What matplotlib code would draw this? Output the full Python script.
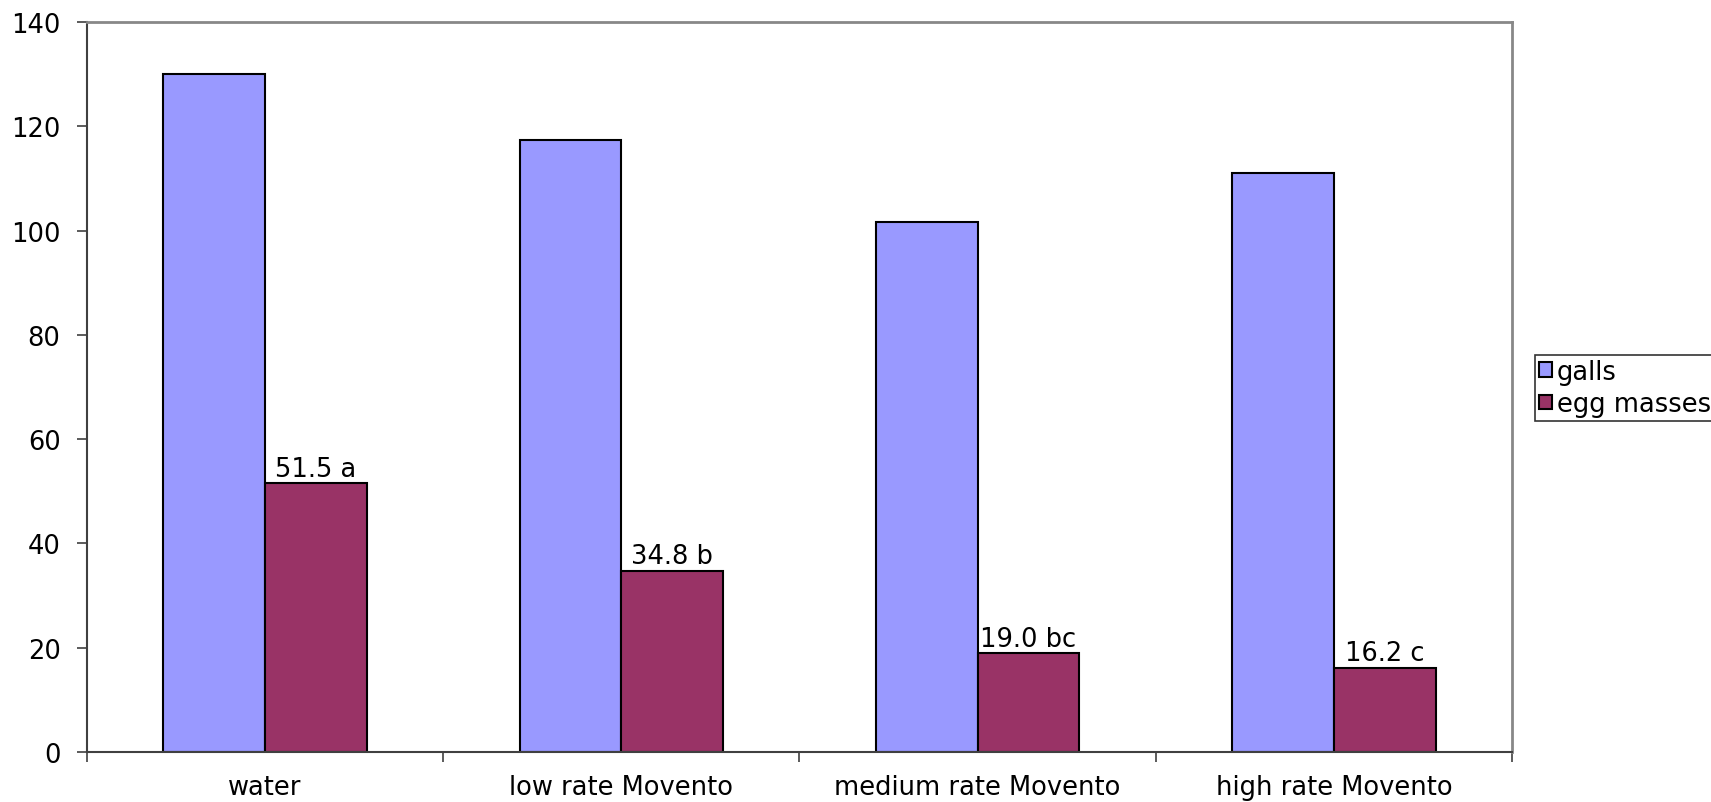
import matplotlib
matplotlib.use("Agg")
import matplotlib.pyplot as plt
import numpy as np

categories = ["water", "low rate Movento", "medium rate Movento", "high rate Movento"]
galls = [130.0, 117.3, 101.6, 111.0]
egg_masses = [51.5, 34.8, 19.0, 16.2]
egg_labels = ["51.5 a", "34.8 b", "19.0 bc", "16.2 c"]

plt.rcParams['font.family'] = ['DejaVu Sans']
FS = 18.5

fig = plt.figure(figsize=(17.11, 8.03), dpi=100)
ax = fig.add_axes([0.0508, 0.0623, 0.8329, 0.9091])

# two bars per group, Excel-style gap width 150%
x = np.arange(len(categories))
w = 1 / 3.5
ax.bar(x - w / 2, galls, w, color='#9999ff', edgecolor='black', linewidth=1.5, label='galls')
b2 = ax.bar(x + w / 2, egg_masses, w, color='#993366', edgecolor='black', linewidth=1.5, label='egg masses')

for rect, lab in zip(b2, egg_labels):
    ax.text(rect.get_x() + rect.get_width() / 2, rect.get_height() + 0.2, lab,
            ha='center', va='bottom', fontsize=FS)

ax.set_xlim(-0.5, len(categories) - 0.5)
ax.set_ylim(0, 140)
ax.set_yticks(np.arange(0, 141, 20))
ax.set_xticks(x)
ax.set_xticklabels(categories, fontsize=FS)
ax.tick_params(axis='x', length=0, pad=16)
# tick marks between categories
ax.set_xticks(np.arange(-0.5, len(categories), 1), minor=True)
ax.tick_params(axis='x', which='minor', length=7, width=1.2, color='#404040', direction='out')
ax.tick_params(axis='y', labelsize=FS, length=7, width=1.2, color='#404040', pad=12)

for s in ['left', 'bottom']:
    ax.spines[s].set_color('#404040')
    ax.spines[s].set_linewidth(1.5)
for s in ['top', 'right']:
    ax.spines[s].set_color('#888888')
    ax.spines[s].set_linewidth(2)

leg = fig.legend(loc='upper left', bbox_to_anchor=(1535 / 1711, 1 - 356 / 803),
                 fontsize=FS, frameon=True, fancybox=False, edgecolor='black',
                 handlelength=0.5, handleheight=0.5, handletextpad=0.2,
                 borderpad=0.15, labelspacing=0.25, borderaxespad=0)
leg.get_frame().set_linewidth(1.2)

fig.savefig('out.png', dpi=100)
